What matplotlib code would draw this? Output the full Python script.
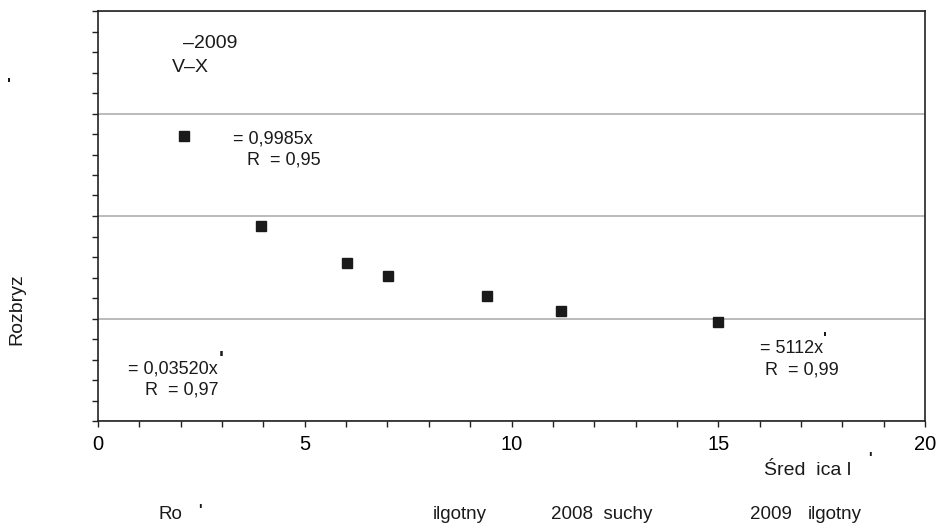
import matplotlib
matplotlib.use("Agg")
import matplotlib.pyplot as plt
from matplotlib.ticker import MultipleLocator, NullFormatter

plt.rcParams['font.family'] = ['Liberation Sans', 'DejaVu Sans']

# Measured spread vs. mean diameter
srednica = [2.09, 3.93, 6.01, 7.01, 9.40, 11.20, 14.99]
rozbryz = [2.78, 1.90, 1.54, 1.41, 1.22, 1.07, 0.97]

x_ticks = [0, 5, 10, 15, 20]
x_tick_labels = ["0", "5", "10", "15", "20"]

W, H = 940, 531
fig = plt.figure(figsize=(W / 100, H / 100), dpi=100)
ax = fig.add_axes([98 / W, 1 - 421 / H, (925 - 98) / W, (421 - 11) / H])


def fx(px):
    return px / W


def fy(py):
    return 1 - py / H


ax.plot(srednica, rozbryz, linestyle='none', marker='s', markersize=7,
        color='#1a1a1a', zorder=3)

ax.set_xlim(0, 20)
ax.set_ylim(0, 4)
ax.set_xticks(x_ticks)
ax.set_xticklabels(x_tick_labels)
ax.xaxis.set_minor_locator(MultipleLocator(1))
ax.yaxis.set_major_locator(MultipleLocator(1))
ax.yaxis.set_minor_locator(MultipleLocator(0.2))
ax.yaxis.set_major_formatter(NullFormatter())

ax.tick_params(which='both', direction='out', length=4, width=1, color='#222222')
ax.tick_params(axis='x', labelsize=14.5, pad=6)
ax.grid(axis='y', which='major', color='#a8a8a8', linewidth=1.1)
ax.set_axisbelow(True)
for sp in ax.spines.values():
    sp.set_linewidth(1.2)
    sp.set_color('#222222')

txt = dict(fontsize=13, color='#1a1a1a', va='baseline', ha='left')
mark = dict(ha='center', va='top', color='#1a1a1a', fontweight='bold')

# Series caption in the upper-left corner
ax.text(2.056, 3.639, "–2009", fontsize=14, color='#1a1a1a', va='baseline')
ax.text(1.79, 3.405, "V–X", fontsize=14, color='#1a1a1a', va='baseline')

# Fitted curve equations
ax.text(3.265, 2.712, "= 0,9985x", **txt)
ax.text(3.603, 2.498, "R  = 0,95", **txt)
ax.text(0.726, 0.468, "= 0,03520x", **txt)
ax.text(1.137, 0.254, "R  = 0,97", **txt)
ax.text(16.01, 0.663, "= 5112x", **txt)
ax.text(16.13, 0.449, "R  = 0,99", **txt)
fig.text(fx(221), fy(350), "'", fontsize=15, **mark)
fig.text(fx(824.5), fy(332), "'", fontsize=12, **mark)

# Axis titles
fig.text(fx(17), fy(309), "Rozbryz", fontsize=14, rotation=90,
         ha='center', va='center', color='#1a1a1a')
fig.text(fx(9), fy(78), "'", fontsize=12, **mark)
fig.text(fx(764), fy(475), "Śred  ica l", fontsize=14, ha='left', va='baseline',
         color='#1a1a1a')
fig.text(fx(870), fy(451), "'", fontsize=11, **mark)

# Series labels along the bottom
row = dict(fontsize=13.5, ha='left', va='baseline', color='#1a1a1a')
fig.text(fx(158), fy(519), "Ro", **row)
fig.text(fx(200), fy(503), "'", fontsize=11, **mark)
fig.text(fx(433), fy(519), "ilgotny", **row)
fig.text(fx(551), fy(519), "2008  suchy", **row)
fig.text(fx(750), fy(519), "2009", **row)
fig.text(fx(808), fy(519), "ilgotny", **row)

fig.savefig("out.png", dpi=100)
